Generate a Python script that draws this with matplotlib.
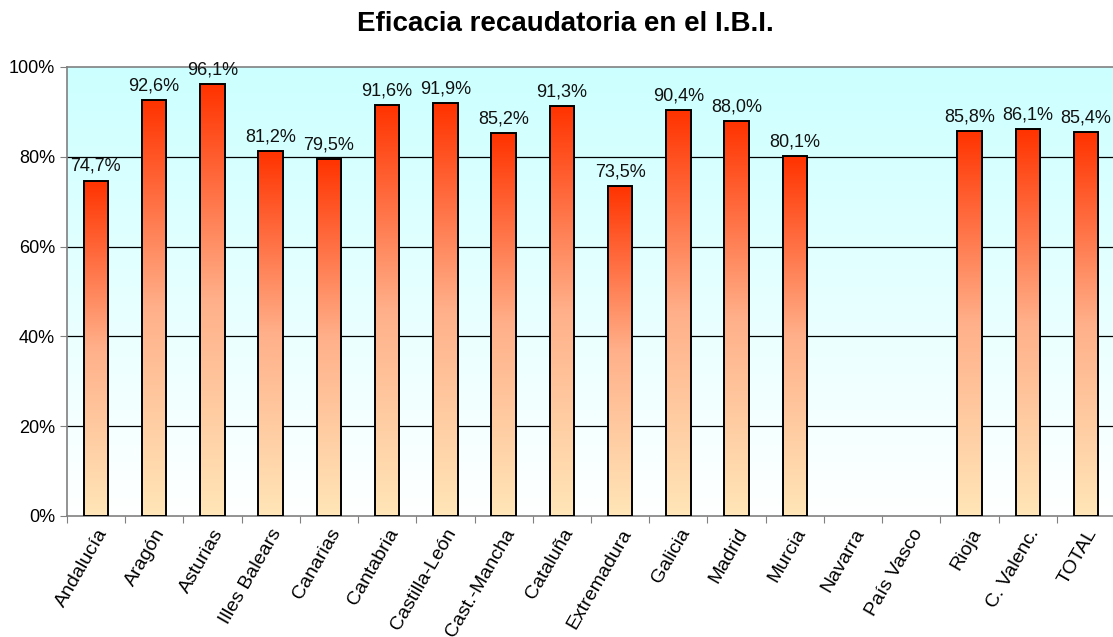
import matplotlib.pyplot as plt
import numpy as np
from matplotlib.colors import LinearSegmentedColormap
from matplotlib.ticker import FixedLocator, PercentFormatter

regions = ["Andalucía", "Aragón", "Asturias", "Illes Balears", "Canarias",
           "Cantabria", "Castilla-León", "Cast.-Mancha", "Cataluña", "Extremadura",
           "Galicia", "Madrid", "Murcia", "Navarra", "País Vasco", "Rioja",
           "C. Valenc.", "TOTAL"]
eficacia = [74.7, 92.6, 96.1, 81.2, 79.5, 91.6, 91.9, 85.2, 91.3, 73.5,
            90.4, 88.0, 80.1, np.nan, np.nan, 85.8, 86.1, 85.4]

plt.rcParams['font.family'] = ['Liberation Sans', 'DejaVu Sans']

fig = plt.figure(figsize=(11.13, 6.37), dpi=100)
ax = fig.add_axes([0.060, 0.190, 0.942, 0.705])

x = np.arange(len(regions))
ax.set_xlim(-0.5, len(regions) - 0.5)
ax.set_ylim(0, 100)

# fondo degradado (cian arriba -> blanco abajo)
bg_cmap = LinearSegmentedColormap.from_list("bg", ["#FFFFFF", "#CCFFFF"])
grad = np.linspace(0, 1, 256).reshape(-1, 1)
ax.imshow(grad, aspect="auto", cmap=bg_cmap, origin="lower",
          extent=[-0.5, len(regions) - 0.5, 0, 100], zorder=0)

for v in [20, 40, 60, 80]:
    ax.axhline(v, color="black", lw=0.9, zorder=1)

bar_cmap = LinearSegmentedColormap.from_list("bar", ["#FFE6B8", "#FFB08A", "#FF3300"])
width = 0.42
for xi, v in zip(x, eficacia):
    if np.isnan(v):
        continue
    b = ax.bar(xi, v, width=width, facecolor="none", edgecolor="black",
               linewidth=1.4, zorder=3)[0]
    im = ax.imshow(grad, aspect="auto", cmap=bar_cmap, origin="lower",
                   extent=[b.get_x(), b.get_x() + b.get_width(), 0, v], zorder=2)
    im.set_clip_path(b)
    ax.annotate(f"{v:.1f}%".replace(".", ","), (xi, v),
                xytext=(0, 4), textcoords="offset points", ha="center", va="bottom",
                fontsize=13, color="#111111", zorder=4)

ax.set_xlim(-0.5, len(regions) - 0.5)
ax.set_ylim(0, 100)

ax.set_yticks([0, 20, 40, 60, 80, 100])
ax.yaxis.set_major_formatter(PercentFormatter(decimals=0))
ax.xaxis.set_major_locator(FixedLocator(x - 0.5))
ax.set_xticklabels([])
ax.xaxis.set_minor_locator(FixedLocator(x))
ax.set_xticklabels(regions, minor=True, rotation=60, ha="right",
                   rotation_mode="anchor", fontsize=14)
ax.tick_params(axis="x", which="minor", length=0, pad=7)
ax.tick_params(axis="x", which="major", length=5, color="#808080", direction="out")
ax.tick_params(axis="y", length=5, color="#808080", labelsize=13, direction="out")

for s in ["left", "bottom", "top"]:
    ax.spines[s].set_color("#808080")
    ax.spines[s].set_linewidth(1.2)
ax.spines["right"].set_visible(False)

fig.text(0.508, 0.962, "Eficacia recaudatoria en el I.B.I.", ha="center", va="center",
         fontsize=20, fontweight="bold",
         family=['Liberation Sans Narrow', 'Liberation Sans', 'DejaVu Sans'])

fig.savefig("out.png", dpi=100)
